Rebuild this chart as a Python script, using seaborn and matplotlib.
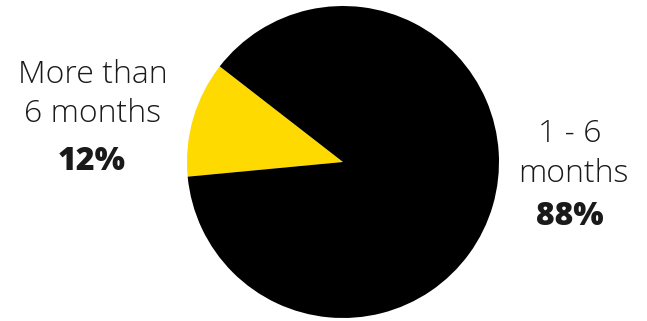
import matplotlib
matplotlib.use("Agg")
import matplotlib.pyplot as plt
import seaborn as sns

sns.set_theme(style="white")
plt.rcParams['font.family'] = ['Open Sans', 'DejaVu Sans']

categories = ["More than 6 months", "1 - 6 months"]
values = [12, 88]
colors = ["#FFDA00", "#000000"]

W, H = 647, 321
fig = plt.figure(figsize=(W / 100, H / 100), dpi=100)
cx, cy, r = 343, 159, 156
ax = fig.add_axes([(cx - r) / W, (cy - r) / H, 2 * r / W, 2 * r / H])
ax.pie(values, colors=colors, startangle=142.2, counterclock=True,
       wedgeprops=dict(linewidth=0))
ax.set_xlim(-1, 1)
ax.set_ylim(-1, 1)
ax.set_aspect("equal")
ax.axis("off")

def t(x, y_top, s, bold=False):
    fig.text(x / W, (H - y_top) / H, s, ha="center", va="baseline",
             fontsize=23, color="#1a1a1a",
             fontweight="heavy" if bold else "light")

t(93, 83, "More than")
t(93, 122, "6 months")
t(92, 170, f"{values[0]}%", bold=True)
t(570, 142, "1 - 6")
t(573, 182, "months")
t(570, 225, f"{values[1]}%", bold=True)

fig.savefig("out.png", dpi=100)
